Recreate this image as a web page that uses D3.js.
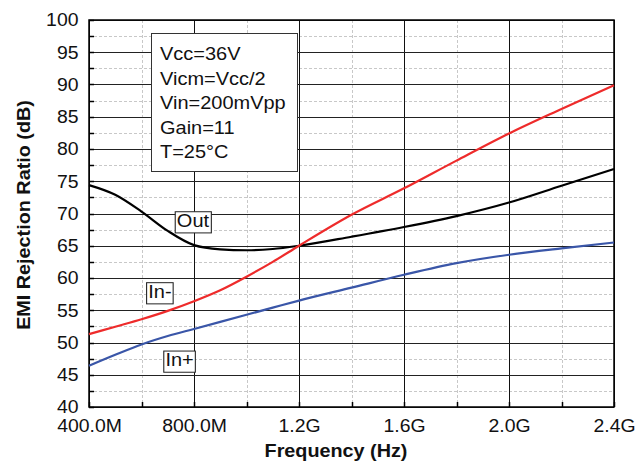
<!DOCTYPE html>
<html>
<head>
<meta charset="utf-8">
<script src="https://cdn.jsdelivr.net/npm/d3@7"></script>
<style>
  body { margin: 0; background: #fff; }
  text { font-family: "Liberation Sans", Arial, sans-serif; }
</style>
</head>
<body>
<div id="chart"></div>
<script>
// frequencies in MHz
var freqs = [400, 500, 600, 700, 800, 900, 1000, 1100, 1200, 1400, 1600, 1800, 2000, 2200, 2400];
var outVals   = [74.4, 72.9, 70.3, 67.3, 65.1, 64.45, 64.3, 64.5, 65.0, 66.4, 67.9, 69.6, 71.7, 74.3, 76.9];
var inMinus   = [51.3, 52.45, 53.6, 54.9, 56.4, 58.1, 60.2, 62.5, 65.0, 69.8, 73.9, 78.2, 82.4, 86.2, 89.9];
var inPlus    = [46.4, 48.1, 49.7, 51.0, 52.1, 53.2, 54.3, 55.4, 56.5, 58.5, 60.5, 62.3, 63.6, 64.6, 65.5];

var xTicks = [400, 800, 1200, 1600, 2000, 2400];
var xTickLabels = ['400.0M', '800.0M', '1.2G', '1.6G', '2.0G', '2.4G'];
var yTicks = [40, 45, 50, 55, 60, 65, 70, 75, 80, 85, 90, 95, 100];
var conditions = ['Vcc=36V', 'Vicm=Vcc/2', 'Vin=200mVpp', 'Gain=11', 'T=25\u00B0C'];

var width = 638, height = 468;
var margin = {top: 20, right: 24, bottom: 61, left: 89};
var w = width - margin.left - margin.right,
    h = height - margin.top - margin.bottom;

// the original lettering is a bit wider than Arial
var stretch = 'scale(1.08,1)';

var svg = d3.select('#chart').append('svg')
  .attr('width', width)
  .attr('height', height);

var g = svg.append('g')
  .attr('transform', 'translate(' + margin.left + ',' + margin.top + ')');

var x = d3.scaleLinear().domain([400, 2400]).range([0, w]);
var y = d3.scaleLinear().domain([40, 100]).range([h, 0]);

function px(v) { return Math.round(v) + 0.5; }

// minor grid (dashed)
var xMinor = d3.range(600, 2400, 400);
var yMinor = d3.range(42.5, 100, 5);

g.selectAll('.xminor')
  .data(xMinor)
  .enter().append('line')
  .attr('x1', function(d) { return px(x(d)); })
  .attr('x2', function(d) { return px(x(d)); })
  .attr('y1', 0).attr('y2', h)
  .attr('stroke', '#c8c8c8').attr('stroke-dasharray', '3,2');

g.selectAll('.yminor')
  .data(yMinor)
  .enter().append('line')
  .attr('y1', function(d) { return px(y(d)); })
  .attr('y2', function(d) { return px(y(d)); })
  .attr('x1', 0).attr('x2', w)
  .attr('stroke', '#c8c8c8').attr('stroke-dasharray', '3,2');

// major grid
g.selectAll('.xmajor')
  .data(xTicks)
  .enter().append('line')
  .attr('x1', function(d) { return px(x(d)); })
  .attr('x2', function(d) { return px(x(d)); })
  .attr('y1', 0).attr('y2', h)
  .attr('stroke', '#111');

g.selectAll('.ymajor')
  .data(yTicks)
  .enter().append('line')
  .attr('y1', function(d) { return px(y(d)); })
  .attr('y2', function(d) { return px(y(d)); })
  .attr('x1', 0).attr('x2', w)
  .attr('stroke', '#222');

// axes (labels only, ticks drawn inward below)
var yAxis = g.append('g')
  .call(d3.axisLeft(y).tickValues(yTicks).tickSize(0).tickPadding(10));
var xAxis = g.append('g')
  .attr('transform', 'translate(0,' + h + ')')
  .call(d3.axisBottom(x).tickValues(xTicks).tickSize(0).tickPadding(12)
    .tickFormat(function(d, i) { return xTickLabels[i]; }));

[yAxis, xAxis].forEach(function(ax) {
  ax.select('.domain').remove();
  ax.selectAll('text')
    .style('font-family', '"Liberation Sans", Arial, sans-serif')
    .style('font-size', '18.5px')
    .attr('fill', '#111')
    .attr('transform', 'scale(1.05,1)');
});

// inner ticks
g.selectAll('.ytick')
  .data(d3.range(40, 100.1, 2.5))
  .enter().append('line')
  .attr('x1', 0).attr('x2', 5)
  .attr('y1', function(d) { return px(y(d)); })
  .attr('y2', function(d) { return px(y(d)); })
  .attr('stroke', '#000').attr('stroke-width', 1.5);

g.selectAll('.xtick')
  .data(d3.range(400, 2401, 200))
  .enter().append('line')
  .attr('y1', h).attr('y2', h - 5)
  .attr('x1', function(d) { return px(x(d)); })
  .attr('x2', function(d) { return px(x(d)); })
  .attr('stroke', '#000').attr('stroke-width', 1.5);

// frame
g.append('rect')
  .attr('x', 0).attr('y', 0).attr('width', w).attr('height', h)
  .attr('fill', 'none').attr('stroke', '#000').attr('stroke-width', 1.5);

// curves
var series = [
  {name: 'Out', values: outVals, color: '#000000'},
  {name: 'In-', values: inMinus, color: '#ee2b2b'},
  {name: 'In+', values: inPlus, color: '#3a56a8'}
];

var line = d3.line()
  .x(function(d) { return x(d[0]); })
  .y(function(d) { return y(d[1]); })
  .curve(d3.curveMonotoneX);

series.forEach(function(s) {
  g.append('path')
    .datum(freqs.map(function(f, i) { return [f, s.values[i]]; }))
    .attr('d', line)
    .attr('fill', 'none')
    .attr('stroke', s.color)
    .attr('stroke-width', 2.2);
});

// curve labels (boxed)
var curveLabels = [
  {text: 'Out', f: 796, v: 68.9},
  {text: 'In-', f: 670, v: 57.9},
  {text: 'In+', f: 745, v: 47.3}
];

curveLabels.forEach(function(l) {
  var lg = g.append('g')
    .attr('transform', 'translate(' + x(l.f) + ',' + y(l.v) + ') ' + stretch);
  var rect = lg.append('rect');
  var t = lg.append('text')
    .attr('text-anchor', 'middle')
    .attr('dy', '0.35em')
    .style('font-size', '18.5px')
    .attr('fill', '#111')
    .text(l.text);
  var bb = t.node().getBBox();
  rect.attr('x', bb.x - 1.5).attr('y', bb.y + 1)
    .attr('width', bb.width + 3).attr('height', bb.height + 1)
    .attr('fill', '#fff').attr('stroke', '#222').attr('stroke-width', 1);
});

// conditions box
var box = svg.append('g');
box.append('rect')
  .attr('x', 151.5).attr('y', 33.5).attr('width', 146).attr('height', 138)
  .attr('fill', '#fff').attr('stroke', '#333').attr('stroke-width', 1);
box.selectAll('text')
  .data(conditions)
  .enter().append('text')
  .attr('transform', function(d, i) { return 'translate(160,' + (60 + i * 24.5) + ') ' + stretch; })
  .style('font-size', '18.5px')
  .attr('fill', '#111')
  .text(function(d) { return d; });

// axis titles
svg.append('text')
  .attr('transform', 'translate(336,457) scale(1.1,1)')
  .attr('text-anchor', 'middle')
  .style('font-size', '18px').style('font-weight', 'bold')
  .attr('fill', '#111')
  .text('Frequency (Hz)');

svg.append('text')
  .attr('transform', 'translate(30,215) rotate(-90) scale(1.1,1)')
  .attr('text-anchor', 'middle')
  .style('font-size', '18px').style('font-weight', 'bold')
  .attr('fill', '#111')
  .text('EMI Rejection Ratio (dB)');
</script>
</body>
</html>
